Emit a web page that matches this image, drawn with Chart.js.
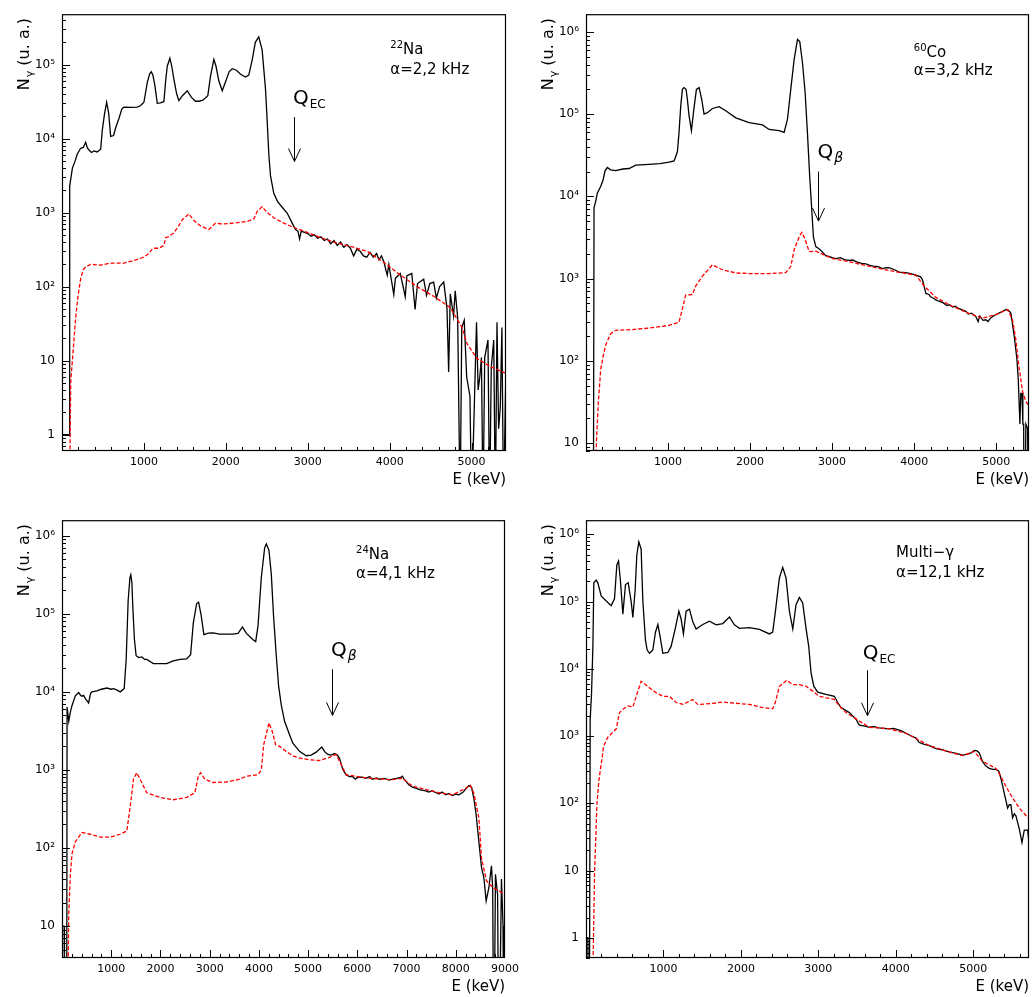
<!DOCTYPE html>
<html>
<head>
<meta charset="utf-8">
<title>Gamma spectra</title>
<script src="https://cdn.jsdelivr.net/npm/chart.js@4.4.1/dist/chart.umd.min.js"></script>
<style>
  body { margin: 0; background: #fff; width: 1032px; height: 997px; position: relative; overflow: hidden; }
  canvas { position: absolute; }
</style>
</head>
<body>
<canvas id="c1" width="524" height="491" style="left:0;top:0"></canvas>
<canvas id="c2" width="508" height="491" style="left:524px;top:0"></canvas>
<canvas id="c3" width="524" height="491" style="left:0;top:506px"></canvas>
<canvas id="c4" width="508" height="491" style="left:524px;top:506px"></canvas>
<script>
// axis labels
const decadeValues = [1, 10, 100, 1000, 10000, 100000, 1000000];
const decadeLabels = ['1', '10', '10²', '10³', '10⁴', '10⁵', '10⁶'];
const energyTicks = [1000, 2000, 3000, 4000, 5000, 6000, 7000, 8000, 9000];

// [E (keV), counts]; 0.1 = empty bin
const na22Measured = [[0,1],[90,1],[94,2300],[127,4000],[160,5000],[187,6200],[228,7400],[260,7600],[289,8900],[310,7500],[330,7000],[360,6500],[390,6800],[430,6600],[472,7200],[492,13000],[520,22000],[545,31000],[570,22000],[594,10700],[630,11000],[655,14000],[695,18700],[730,25000],[756,26700],[840,26500],[919,26700],[960,28000],[1000,31000],[1041,57000],[1070,75000],[1090,80000],[1110,72000],[1134,52000],[1163,30000],[1200,30500],[1244,31500],[1265,60000],[1285,95000],[1317,122000],[1340,95000],[1366,63000],[1400,40000],[1427,32600],[1470,38000],[1529,44300],[1580,36000],[1630,32000],[1671,32000],[1720,33000],[1780,38000],[1813,70000],[1854,118000],[1880,95000],[1915,60000],[1956,44300],[2000,60000],[2040,80000],[2078,88000],[2130,84000],[2180,74000],[2240,68000],[2280,72000],[2322,116000],[2360,200000],[2402,237000],[2443,158000],[2484,47000],[2505,17000],[2525,6100],[2545,3160],[2585,1820],[2630,1420],[2688,1180],[2750,980],[2810,720],[2850,590],[2880,560],[2900,440],[2920,560],[2960,540],[3000,520],[3040,480],[3080,500],[3120,450],[3160,470],[3200,420],[3240,440],[3280,380],[3320,420],[3360,360],[3400,400],[3440,340],[3480,370],[3520,330],[3560,260],[3600,320],[3640,300],[3680,260],[3720,250],[3760,290],[3800,250],[3840,280],[3870,230],[3900,260],[3930,215],[3970,143],[3990,200],[4050,78],[4070,130],[4130,150],[4190,73],[4210,140],[4270,150],[4310,49],[4340,110],[4415,126],[4450,76],[4490,110],[4537,115],[4570,70],[4610,100],[4660,115],[4700,50],[4720,7],[4740,80],[4780,40],[4800,88],[4830,38],[4860,0.1],[4880,28],[4910,35],[4940,6],[4980,3.3],[5000,0.1],[5060,33],[5080,4],[5100,6],[5120,11],[5140,0.1],[5160,11],[5200,19],[5220,0.1],[5240,8],[5270,19],[5290,0.1],[5310,33],[5330,1.2],[5350,2.3],[5370,28],[5390,0.1],[5420,9]];
const na22Simulated = [[95,0.3],[106,5],[139,15],[167,38],[195,74],[228,128],[260,170],[289,185],[350,200],[472,195],[594,208],[756,208],[878,225],[1000,250],[1061,280],[1100,320],[1122,330],[1183,330],[1244,360],[1265,460],[1300,470],[1366,535],[1420,650],[1468,800],[1549,960],[1610,780],[1691,660],[1793,590],[1874,720],[1956,700],[2098,720],[2261,760],[2342,820],[2383,1040],[2443,1200],[2505,1000],[2585,850],[2708,720],[2830,630],[2993,540],[3155,460],[3317,400],[3520,350],[3724,300],[3928,213],[4131,143],[4334,100],[4537,74],[4740,52],[4883,28],[4944,17],[5065,10.7],[5228,8.3],[5423,6.7]];

const co60Measured = [[90,1],[98,7300],[118,8700],[139,11000],[179,13200],[208,15800],[232,20400],[260,22400],[300,21000],[362,20600],[450,21500],[525,21800],[606,24000],[769,24500],[900,25000],[1013,26000],[1074,27000],[1114,34800],[1134,60000],[1155,126000],[1175,200000],[1195,210000],[1220,200000],[1236,150000],[1256,96000],[1285,63000],[1317,120000],[1346,200000],[1379,210000],[1411,150000],[1439,100000],[1480,104000],[1541,117000],[1622,123000],[1704,110000],[1826,90000],[1988,79000],[2151,74000],[2232,65000],[2354,63000],[2415,60000],[2456,87000],[2496,200000],[2537,460000],[2578,810000],[2606,760000],[2639,418000],[2671,183000],[2699,60000],[2728,16600],[2748,7950],[2772,3200],[2801,2450],[2840,2300],[2862,2200],[2923,1900],[2970,1850],[3000,1800],[3045,1750],[3100,1800],[3150,1700],[3208,1660],[3250,1680],[3300,1600],[3360,1530],[3411,1510],[3460,1450],[3500,1420],[3560,1400],[3614,1320],[3660,1360],[3700,1350],[3760,1280],[3817,1200],[3900,1180],[3960,1150],[4021,1100],[4080,1050],[4102,960],[4143,660],[4180,640],[4200,600],[4230,580],[4265,550],[4300,530],[4350,510],[4400,470],[4427,480],[4470,450],[4500,460],[4550,430],[4600,410],[4631,400],[4660,370],[4700,380],[4752,345],[4780,300],[4800,350],[4840,310],[4874,315],[4900,300],[4930,330],[4996,365],[5060,390],[5118,420],[5150,410],[5179,380],[5220,200],[5253,104],[5269,60],[5289,17],[5300,40],[5315,40],[5325,17],[5335,17],[5342,0.1],[5362,17],[5383,15],[5400,0.1]];
const co60Simulated = [[105,1],[110,3],[130,12],[151,32],[179,78],[208,112],[240,156],[301,214],[362,235],[565,240],[769,250],[1013,270],[1134,295],[1175,430],[1215,630],[1297,640],[1337,810],[1419,1070],[1480,1250],[1541,1470],[1663,1280],[1826,1170],[1988,1150],[2232,1150],[2435,1180],[2496,1400],[2537,2230],[2598,3200],[2631,3650],[2671,3000],[2720,2130],[2801,2150],[3004,1750],[3208,1600],[3614,1300],[3800,1200],[4021,1100],[4122,810],[4265,590],[4427,480],[4631,390],[4834,330],[4996,365],[5138,420],[5199,315],[5240,180],[5281,80],[5322,42],[5362,32],[5403,28]];

const na24Measured = [[0,10],[45,10],[50,0.1],[95,0.1],[103,6400],[137,4200],[170,5500],[204,6700],[271,8900],[339,9800],[380,9000],[406,8800],[440,9000],[474,8200],[541,7200],[580,9500],[609,10000],[710,10300],[800,10800],[912,11200],[1000,10800],[1047,11000],[1120,10500],[1182,10000],[1263,11000],[1304,26000],[1344,148000],[1380,290000],[1398,316000],[1420,250000],[1439,120000],[1472,46500],[1506,29000],[1560,27500],[1621,28000],[1680,26000],[1722,26000],[1857,23000],[2000,23000],[2127,23000],[2262,25000],[2400,26000],[2532,26400],[2613,30000],[2667,76000],[2734,134000],[2775,141000],[2822,100000],[2883,54000],[2970,56700],[3071,57000],[3200,55000],[3341,55000],[3460,55000],[3577,56000],[3665,68000],[3746,56000],[3881,46500],[3935,44000],[3982,70000],[4049,291000],[4117,700000],[4151,783000],[4205,650000],[4252,322000],[4299,91000],[4353,29000],[4400,12000],[4454,6800],[4522,4200],[4623,2830],[4690,2200],[4826,1730],[4961,1520],[5062,1550],[5163,1690],[5278,1960],[5340,1700],[5399,1580],[5470,1550],[5534,1620],[5590,1560],[5636,1420],[5703,1020],[5770,870],[5840,820],[5905,820],[5960,760],[6000,800],[6100,810],[6175,780],[6250,820],[6300,760],[6400,790],[6445,760],[6550,780],[6650,740],[6715,760],[6800,780],[6880,800],[6917,830],[6950,760],[6985,720],[7050,640],[7120,600],[7200,580],[7260,560],[7390,540],[7450,520],[7520,540],[7600,510],[7660,490],[7720,520],[7800,480],[7860,500],[7929,470],[8000,490],[8065,480],[8150,520],[8200,570],[8267,630],[8321,600],[8368,430],[8415,263],[8455,147],[8489,91],[8523,56],[8570,42],[8617,21],[8672,31],[8725,59],[8750,30],[8773,0.1],[8806,46],[8850,25],[8874,0.1],[8928,40],[8960,10],[8976,0.1],[9000,40]];
const na24Simulated = [[100,0.1],[137,14],[170,46],[204,85],[271,120],[406,158],[575,150],[777,138],[980,138],[1182,150],[1317,165],[1398,390],[1452,760],[1519,920],[1587,760],[1722,510],[1992,445],[2262,415],[2532,445],[2700,510],[2767,830],[2815,920],[2902,760],[3071,690],[3341,700],[3611,760],[3746,830],[3982,870],[4049,1000],[4097,2100],[4205,4000],[4272,3100],[4340,2100],[4420,2000],[4555,1730],[4690,1520],[4826,1420],[5028,1350],[5231,1320],[5433,1450],[5568,1580],[5669,1180],[5770,870],[6175,790],[6715,750],[6917,780],[7120,620],[7660,510],[7929,480],[8200,580],[8290,640],[8368,500],[8470,240],[8523,74],[8624,38],[8759,31],[8976,26],[9000,26]];

const multiMeasured = [[0,1],[24,1],[30,0.1],[45,0.1],[54,1780],[71,4150],[89,21500],[101,190000],[132,208000],[153,190000],[196,121000],[261,102000],[325,87000],[368,110000],[398,351000],[420,400000],[445,200000],[476,65000],[510,179000],[545,190000],[583,100000],[605,58000],[635,150000],[656,493000],[682,770000],[712,600000],[734,102000],[768,26500],[790,19000],[820,17000],[863,19000],[897,35000],[928,45500],[957,30000],[992,17000],[1057,17500],[1099,21500],[1155,40800],[1199,72000],[1228,55000],[1258,33000],[1293,72000],[1336,77000],[1379,50000],[1422,39000],[1508,45500],[1594,51000],[1680,45000],[1766,47000],[1852,59000],[1916,45000],[1981,40000],[2110,41000],[2239,38500],[2368,33000],[2411,35000],[2446,72000],[2497,224000],[2540,322000],[2583,224000],[2626,72000],[2670,39000],[2712,90000],[2755,115000],[2798,95000],[2841,40000],[2876,21500],[2906,8700],[2941,5500],[2992,4500],[3099,4150],[3207,3900],[3250,3150],[3293,2650],[3400,2230],[3486,1780],[3529,1450],[3600,1400],[3658,1350],[3720,1380],[3787,1320],[3850,1300],[3916,1280],[3970,1300],[4024,1240],[4080,1180],[4132,1100],[4200,1000],[4261,930],[4303,800],[4360,760],[4432,720],[4519,650],[4600,620],[4690,580],[4780,550],[4863,520],[4930,540],[4970,560],[5013,610],[5050,600],[5078,560],[5121,415],[5160,360],[5206,330],[5250,320],[5293,320],[5330,300],[5357,236],[5400,142],[5444,85],[5466,95],[5486,95],[5508,61],[5530,70],[5551,65],[5594,42],[5629,26],[5659,40],[5703,40],[5720,26]];
const multiSimulated = [[89,0.3],[111,9.5],[124,26],[141,96],[167,223],[210,490],[226,700],[282,960],[347,1140],[390,1280],[433,2230],[476,2500],[540,2800],[605,2700],[656,4150],[712,6500],[755,6000],[820,5200],[906,4400],[992,3900],[1078,3900],[1164,3150],[1250,2950],[1336,3300],[1379,3500],[1443,2950],[1551,3000],[1680,3100],[1766,3200],[1895,3100],[2110,2950],[2282,2650],[2411,2550],[2446,3200],[2497,5500],[2592,6750],[2670,5800],[2755,5800],[2841,5500],[2927,4650],[3013,3900],[3099,3700],[3207,3500],[3271,2800],[3357,2230],[3486,1800],[3658,1350],[3916,1280],[4132,1100],[4432,720],[4690,580],[4863,510],[5013,590],[5121,420],[5293,330],[5357,250],[5422,178],[5508,120],[5594,85],[5723,58]];

const panels = [
  { id: 'c1', measured: na22Measured, simulated: na22Simulated, xMax: 5420, yMin: 0.64, yMax: 4.8e5, padRight: 18, xAxisHeight: 40,
    nuclide: ['22', 'Na'], rate: 'α=2,2 kHz', textX: 4008, nuclideY: 1.41e5, rateY: 7.45e4,
    q: { sub: 'EC', italic: false, labelX: 2820, labelY: 2.9e4, x: 2838, top: 1.95e4, tip: 4900 } },
  { id: 'c2', measured: co60Measured, simulated: co60Simulated, xMax: 5400, yMin: 8.0, yMax: 1.64e6, padRight: 3, xAxisHeight: 40,
    nuclide: ['60', 'Co'], rate: 'α=3,2 kHz', textX: 3996, nuclideY: 5.0e5, rateY: 2.97e5,
    q: { sub: 'β', italic: true, labelX: 2822, labelY: 2.93e4, x: 2829, top: 2.0e4, tip: 5000 } },
  { id: 'c3', measured: na24Measured, simulated: na24Simulated, xMax: 9000, yMin: 3.9, yMax: 1.58e6, padRight: 18, xAxisHeight: 39,
    nuclide: ['24', 'Na'], rate: 'α=4,1 kHz', textX: 5974, nuclideY: 5.0e5, rateY: 2.9e5,
    q: { sub: 'β', italic: true, labelX: 5467, labelY: 2.87e4, x: 5488, top: 1.95e4, tip: 5000 } },
  { id: 'c4', measured: multiMeasured, simulated: multiSimulated, xMax: 5720, yMin: 0.5, yMax: 1.62e6, padRight: 3, xAxisHeight: 39,
    nuclide: ['', 'Multi−γ'], rate: 'α=12,1 kHz', textX: 4003, nuclideY: 4.6e5, rateY: 2.3e5,
    q: { sub: 'EC', italic: false, labelX: 3573, labelY: 1.38e4, x: 3625, top: 9500, tip: 2000 } }
];

const FONT = '"DejaVu Sans", sans-serif';
Chart.defaults.font.family = FONT;
Chart.defaults.color = '#000';

// ROOT-like frame, inner ticks, axis titles and the text/arrow notes
const rootStyle = {
  id: 'rootStyle',
  afterDraw(chart) {
    const { ctx, chartArea: a } = chart;
    const x = chart.scales.x, y = chart.scales.y;
    const p = chart.options.plugins.rootStyle.panel;
    ctx.save();
    ctx.setLineDash([]);
    ctx.strokeStyle = '#000';
    ctx.fillStyle = '#000';
    ctx.lineWidth = 1.2;
    ctx.strokeRect(a.left + 0.5, a.top + 0.5, a.right - a.left - 1, a.bottom - a.top - 1);

    // tick marks, inside the frame
    ctx.lineWidth = 1;
    ctx.beginPath();
    for (let e = 200; e < p.xMax; e += 200) {
      const px = Math.round(x.getPixelForValue(e)) + 0.5;
      const len = e % 1000 === 0 ? 8 : 4;
      ctx.moveTo(px, a.bottom);
      ctx.lineTo(px, a.bottom - len);
    }
    for (let d = -1; d <= 6; d++) {
      for (let m = 1; m < 10; m++) {
        const v = m * Math.pow(10, d);
        if (v < p.yMin || v > p.yMax) continue;
        const py = Math.round(y.getPixelForValue(v)) + 0.5;
        ctx.moveTo(a.left, py);
        ctx.lineTo(a.left + (m === 1 ? 8 : 4), py);
      }
    }
    ctx.stroke();

    // axis titles
    ctx.textBaseline = 'alphabetic';
    ctx.textAlign = 'right';
    ctx.font = '15px ' + FONT;
    ctx.fillText('E (keV)', a.right, a.bottom + 33);

    ctx.save();
    ctx.translate(29, a.top + 76);
    ctx.rotate(-Math.PI / 2);
    ctx.textAlign = 'left';
    ctx.font = '16px ' + FONT;
    ctx.fillText('N', 0, 0);
    let w = ctx.measureText('N').width;
    ctx.font = '11px ' + FONT;
    ctx.fillText('γ', w + 1, 4);
    w += ctx.measureText('γ').width + 1;
    ctx.font = '16px ' + FONT;
    ctx.fillText(' (u. a.)', w, 0);
    ctx.restore();

    // nuclide + rate
    ctx.textAlign = 'left';
    const tx = x.getPixelForValue(p.textX);
    const ny = y.getPixelForValue(p.nuclideY);
    let sw = 0;
    if (p.nuclide[0]) {
      ctx.font = '10px ' + FONT;
      ctx.fillText(p.nuclide[0], tx, ny - 6);
      sw = ctx.measureText(p.nuclide[0]).width;
    }
    ctx.font = '15px ' + FONT;
    ctx.fillText(p.nuclide[1], tx + sw, ny);
    ctx.fillText(p.rate, tx, y.getPixelForValue(p.rateY));

    // Q value label and arrow
    const q = p.q;
    const qx = x.getPixelForValue(q.labelX), qy = y.getPixelForValue(q.labelY);
    ctx.font = '20px ' + FONT;
    ctx.fillText('Q', qx, qy);
    const qw = ctx.measureText('Q').width;
    ctx.font = q.italic ? 'italic 14px ' + FONT : '12px ' + FONT;
    ctx.fillText(q.sub, qx + qw + 1, qy + 4);

    const ax = Math.round(x.getPixelForValue(q.x)) + 0.5;
    const at = y.getPixelForValue(q.top), ab = y.getPixelForValue(q.tip);
    ctx.beginPath();
    ctx.moveTo(ax, at);
    ctx.lineTo(ax, ab);
    ctx.moveTo(ax - 6, ab - 13);
    ctx.lineTo(ax, ab);
    ctx.lineTo(ax + 6, ab - 13);
    ctx.stroke();
    ctx.restore();
  }
};

const toPoints = arr => arr.map(([e, n]) => ({ x: e, y: n }));

panels.forEach(p => {
  new Chart(document.getElementById(p.id), {
    type: 'line',
    data: {
      datasets: [
        { label: 'simulation', data: toPoints(p.simulated), borderColor: '#ff0000', borderWidth: 1.3,
          borderDash: [4, 2], pointRadius: 0, tension: 0, fill: false },
        { label: 'measured', data: toPoints(p.measured), borderColor: '#000000', borderWidth: 1.3,
          pointRadius: 0, tension: 0, fill: false }
      ]
    },
    options: {
      responsive: false,
      animation: false,
      events: [],
      layout: { padding: { top: 7, right: p.padRight, left: 0, bottom: 0 } },
      plugins: { legend: { display: false }, tooltip: { enabled: false }, rootStyle: { panel: p } },
      scales: {
        x: {
          type: 'linear', min: 0, max: p.xMax,
          grid: { display: false, drawTicks: false }, border: { display: false },
          afterBuildTicks: s => { s.ticks = energyTicks.filter(v => v <= s.max).map(v => ({ value: v })); },
          afterFit: s => { s.height = p.xAxisHeight; },
          ticks: { autoSkip: false, maxRotation: 0, padding: 5, font: { size: 11 }, callback: v => String(v) }
        },
        y: {
          type: 'logarithmic', min: p.yMin, max: p.yMax,
          grid: { display: false, drawTicks: false }, border: { display: false },
          afterBuildTicks: s => { s.ticks = decadeValues.filter(v => v >= s.min && v <= s.max).map(v => ({ value: v })); },
          afterFit: s => { s.width = 62; },
          ticks: { autoSkip: false, padding: 7, font: { size: 12 }, callback: v => decadeLabels[decadeValues.indexOf(v)] }
        }
      }
    },
    plugins: [rootStyle]
  });
});
</script>
</body>
</html>
